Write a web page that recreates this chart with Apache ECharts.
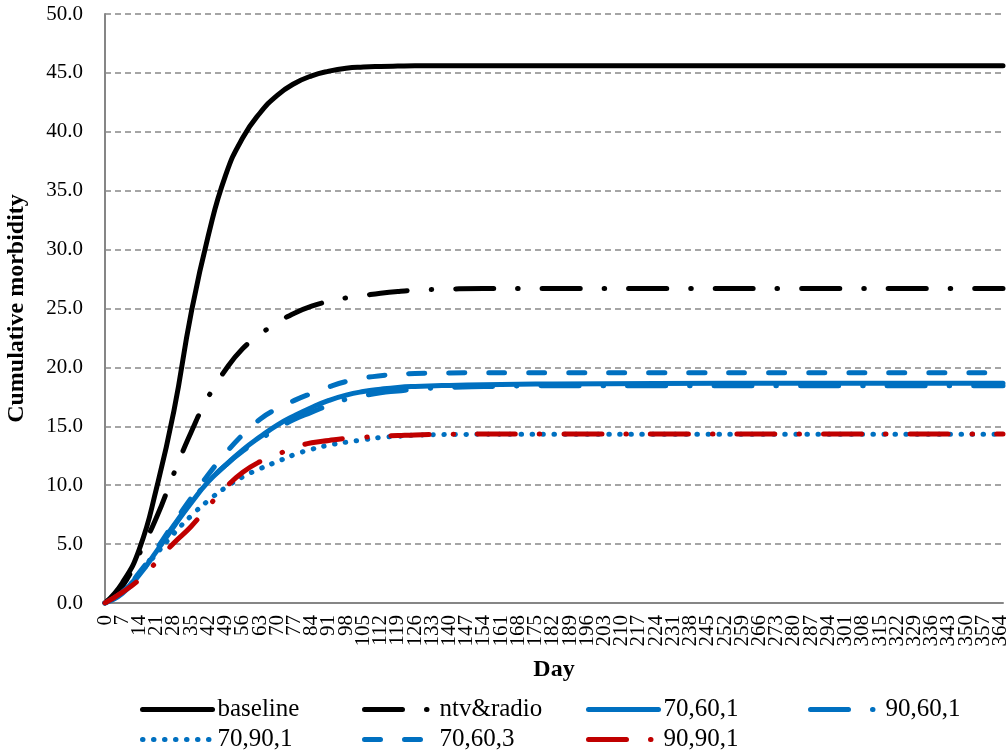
<!DOCTYPE html>
<html>
<head>
<meta charset="utf-8">
<script src="https://cdn.jsdelivr.net/npm/echarts@6/dist/echarts.min.js"></script>
<style>
  html, body { margin: 0; padding: 0; background: #ffffff; }
  #chart { width: 1008px; height: 751px; }
</style>
</head>
<body>
<div id="chart"></div>
<script>
// Sampled days (x) shared by every scenario
var days = [0, 7, 14, 21, 28, 35, 42, 49, 56, 63, 70, 77, 84, 91, 98, 105, 112, 119, 126, 140, 154, 168, 182, 224, 280, 365];

// Cumulative morbidity per scenario
var baseline  = [0, 1.7, 4.6, 9.8, 16.3, 24.6, 31.2, 36.3, 39.5, 41.6, 43.1, 44.1, 44.75, 45.15, 45.4, 45.5, 45.55, 45.58, 45.6, 45.6, 45.6, 45.6, 45.6, 45.6, 45.6, 45.6];
var ntvRadio  = [0, 1.4, 4.2, 7.3, 11.0, 14.5, 17.5, 19.8, 21.6, 22.8, 23.8, 24.6, 25.2, 25.6, 25.9, 26.1, 26.3, 26.45, 26.55, 26.65, 26.7, 26.7, 26.7, 26.7, 26.7, 26.7];
var s70_60_1  = [0, 0.8, 2.4, 4.4, 6.5, 8.5, 10.3, 11.7, 13.0, 14.1, 15.1, 15.9, 16.6, 17.2, 17.65, 17.95, 18.15, 18.3, 18.38, 18.47, 18.53, 18.57, 18.6, 18.63, 18.65, 18.65];
var s90_60_1  = [0, 0.9, 2.5, 4.5, 6.6, 8.6, 10.3, 11.7, 12.9, 13.9, 14.8, 15.6, 16.2, 16.8, 17.3, 17.6, 17.85, 18.0, 18.15, 18.3, 18.37, 18.42, 18.45, 18.45, 18.45, 18.45];
var s70_90_1  = [0, 0.9, 2.5, 4.2, 5.9, 7.4, 8.7, 9.8, 10.7, 11.4, 12.0, 12.6, 13.05, 13.4, 13.65, 13.85, 14.05, 14.15, 14.25, 14.3, 14.32, 14.33, 14.33, 14.33, 14.33, 14.33];
var s70_60_3  = [0, 0.9, 2.6, 4.6, 6.8, 8.9, 10.9, 12.7, 14.3, 15.6, 16.5, 17.2, 17.8, 18.35, 18.8, 19.1, 19.3, 19.42, 19.48, 19.52, 19.55, 19.55, 19.55, 19.55, 19.55, 19.55];
var s90_90_1  = [0, 0.9, 2.0, 3.5, 5.1, 6.5, 8.2, 9.8, 11.1, 12.0, 12.6, 13.2, 13.6, 13.8, 13.97, 14.07, 14.17, 14.22, 14.27, 14.32, 14.35, 14.35, 14.35, 14.35, 14.35, 14.35];

var seriesNames = ['baseline', 'ntv&radio', '70,60,1', '90,60,1', '70,90,1', '70,60,3', '90,90,1'];

var FONT = '"Liberation Serif", "Times New Roman", serif';
var BLACK = '#000000', BLUE = '#0070C0', RED = '#C00000';
var LW = 5;
var DASH_DOT = [38, 24, 0.5, 24];
var DASH = [16, 24];
var ROUND_DOT = [0.5, 10.5];
var LAST_LABEL_DAY = 364;

function pairs(values) {
  return days.map(function (d, i) { return [d, values[i]]; });
}

function lineSeries(name, values, color, dash) {
  return {
    name: name,
    type: 'line',
    data: pairs(values),
    symbol: 'none',
    smooth: 0.5,
    animation: false,
    lineStyle: { color: color, width: LW, type: dash || 'solid', cap: 'round', join: 'round' },
    itemStyle: { color: color }
  };
}

function legendItem(name, left, top) {
  return {
    data: [name],
    left: left,
    top: top,
    padding: 0,
    itemGap: 0,
    itemWidth: 70,
    itemHeight: 14,
    selectedMode: false,
    itemStyle: { opacity: 0, borderWidth: 0 },
    lineStyle: { width: LW },
    textStyle: { fontFamily: FONT, fontSize: 25, color: '#000000' }
  };
}

// Day axis; the weekly labels are split over two overlaid axes so the
// "0" label at the origin and the "7" next to it both stay visible.
function dayAxis(main) {
  return {
    type: 'value',
    min: 0,
    max: 365,
    interval: 7,
    position: 'bottom',
    name: main ? 'Day' : '',
    nameLocation: 'middle',
    nameGap: 55,
    nameTextStyle: { fontFamily: FONT, fontSize: 24, fontWeight: 'bold', color: '#000000' },
    axisLine: { show: main, onZero: false, lineStyle: { color: '#868686', width: 2 } },
    axisTick: { show: false },
    splitLine: { show: false },
    axisLabel: {
      rotate: 90,
      margin: 12,
      fontFamily: FONT,
      fontSize: 21,
      color: '#000000',
      showMinLabel: main ? false : true,
      showMaxLabel: false,
      formatter: main
        ? function (v) { return (v > 0 && v % 7 === 0 && v <= LAST_LABEL_DAY) ? String(v) : ''; }
        : function (v) { return v === 0 ? '0' : ''; }
    }
  };
}

var chart = echarts.init(document.getElementById('chart'), null, { renderer: 'canvas' });

chart.setOption({
  backgroundColor: '#ffffff',
  animation: false,
  grid: { left: 105, right: 5, top: 14, bottom: 148, containLabel: false, outerBoundsMode: 'none' },
  legend: [
    legendItem(seriesNames[0], 140, 697),
    legendItem(seriesNames[1], 362, 697),
    legendItem(seriesNames[2], 586, 697),
    legendItem(seriesNames[3], 808, 697),
    legendItem(seriesNames[4], 140, 727),
    legendItem(seriesNames[5], 362, 727),
    legendItem(seriesNames[6], 586, 727)
  ],
  xAxis: [dayAxis(true), dayAxis(false)],
  yAxis: {
    type: 'value',
    min: 0,
    max: 50,
    interval: 5,
    name: 'Cumulative morbidity',
    nameLocation: 'middle',
    nameGap: 76,
    nameTextStyle: { fontFamily: FONT, fontSize: 24, fontWeight: 'bold', color: '#000000' },
    axisLine: { show: true, lineStyle: { color: '#868686', width: 2 } },
    axisTick: { show: false },
    splitLine: { show: true, lineStyle: { color: '#888888', width: 1.5, type: [6, 4] } },
    axisLabel: {
      margin: 22,
      fontFamily: FONT,
      fontSize: 21,
      color: '#000000',
      formatter: function (v) { return v.toFixed(1); }
    }
  },
  series: [
    lineSeries(seriesNames[0], baseline, BLACK),
    lineSeries(seriesNames[1], ntvRadio, BLACK, DASH_DOT),
    lineSeries(seriesNames[2], s70_60_1, BLUE),
    lineSeries(seriesNames[3], s90_60_1, BLUE, DASH_DOT),
    lineSeries(seriesNames[4], s70_90_1, BLUE, ROUND_DOT),
    lineSeries(seriesNames[5], s70_60_3, BLUE, DASH),
    lineSeries(seriesNames[6], s90_90_1, RED, DASH_DOT)
  ]
});
</script>
</body>
</html>
